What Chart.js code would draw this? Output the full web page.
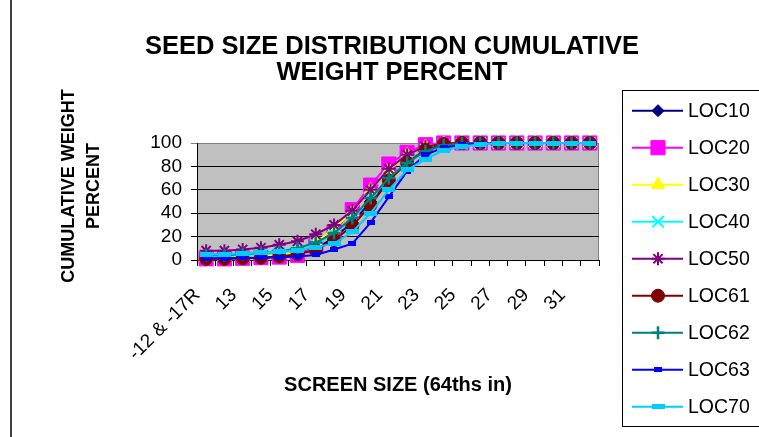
<!DOCTYPE html>
<html>
<head>
<meta charset="utf-8">
<script src="https://cdn.jsdelivr.net/npm/chart.js@4/dist/chart.umd.min.js"></script>
<style>
html,body{margin:0;padding:0;background:#fff;}
#wrap{width:759px;height:437px;position:relative;}
</style>
</head>
<body>
<div id="wrap"><canvas id="chartSeed" width="759" height="437"></canvas></div>
<script>
/* data */

const categories = ["-12 & -17R","12","13","14","15","16","17","18","19","20","21","22","23","24","25","26","27","28","29","30","31","32"];

const loc10 = [1,1.5,2,2.5,3.5,5.5,10,19,32,50,70,84,94,98.5,99.5,100,100,100,100,100,100,100];
const loc20 = [1,1,1.5,2,2.5,4,12,24,43,64,82,92,98.5,100,100,100,100,100,100,100,100,100];
const loc30 = [2,2.5,3,3.5,4.5,6,15,27,41,60,77,90,97,99.5,100,100,100,100,100,100,100,100];
const loc40 = [3,3.5,4,5,6,8,13,22,35,52,70,84,94,98.5,99.5,100,100,100,100,100,100,100];
const loc50 = [8,8,9,10.5,13,16,22,30,42,60,78,90,97,99.5,100,100,100,100,100,100,100,100];
const loc61 = [1,1,1.5,2,3,5,8.5,17,29,47,68,83,94,99,100,100,100,100,100,100,100,100];
const loc62 = [4,4,5,6,7,10,15,23,36,53,70,83,93,98,99.5,100,100,100,100,100,100,100];
const loc63 = [1.5,1.5,2,2,2.3,3,4.3,9,14,32,54,76,90,96,98.5,99.5,100,100,100,100,100,100];
const loc70 = [5,5,5.7,6.5,7,8.5,11,14,24,40,60,77,86,94,97,99,100,100,100,100,100,100];

const yTicks = [0,20,40,60,80,100];

const FONT = "Arial, 'Liberation Sans', sans-serif";

/* small dash markers (LOC63 / LOC70) */

function dash(w,h,color){
let c=document.createElement("canvas");
c.width=w;c.height=h;
let g=c.getContext("2d");
g.fillStyle=color;
g.fillRect(0,0,w,h);
return c;
}

let series=[
{label:"LOC10",data:loc10,color:"#000080",style:"rectRot",r:6,bw:1},
{label:"LOC20",data:loc20,color:"#FF00FF",style:"rect",r:10,bw:1},
{label:"LOC30",data:loc30,color:"#FFFF00",style:"triangle",r:7.5,bw:1},
{label:"LOC40",data:loc40,color:"#00FFFF",style:"crossRot",r:8,bw:2},
{label:"LOC50",data:loc50,color:"#800080",style:"star",r:6.5,bw:2},
{label:"LOC61",data:loc61,color:"#800000",style:"circle",r:6.5,bw:1},
{label:"LOC62",data:loc62,color:"#008080",style:"cross",r:6.5,bw:2.5},
{label:"LOC63",data:loc63,color:"#0000FF",style:dash(8,5,"#0000FF"),r:5,bw:1},
{label:"LOC70",data:loc70,color:"#00CCFF",style:dash(13,5,"#00CCFF"),r:6,bw:1}
];

let datasets=series.map((s,i)=>({
label:s.label,
data:s.data,
borderColor:s.color,
backgroundColor:s.color,
borderWidth:2,
pointStyle:s.style,
pointRadius:s.r,
pointHoverRadius:s.r,
pointBackgroundColor:s.color,
pointBorderColor:s.color,
pointBorderWidth:s.bw,
tension:0,
fill:false,
clip:false,
order:series.length-1-i
}));

/* decorations: background, titles, legend box */

const decor={
id:"decor",
beforeDraw(chart){
let ctx=chart.ctx, a=chart.chartArea;
ctx.save();
ctx.fillStyle="#fff";
ctx.fillRect(0,0,chart.width,chart.height);
ctx.fillStyle="#C0C0C0";
ctx.fillRect(a.left,a.top,a.right-a.left,a.bottom-a.top);
ctx.strokeStyle="#808080";
ctx.lineWidth=1;
ctx.beginPath();
ctx.moveTo(a.left,a.top+0.5);
ctx.lineTo(a.right-0.5,a.top+0.5);
ctx.lineTo(a.right-0.5,a.bottom);
ctx.stroke();
ctx.restore();
},
afterDraw(chart){
let ctx=chart.ctx;
ctx.save();

/* outer frame edge */
ctx.strokeStyle="#404040";
ctx.lineWidth=2;
ctx.beginPath();
ctx.moveTo(11,0);ctx.lineTo(11,437);
ctx.stroke();

/* main title */
ctx.fillStyle="#000";
ctx.textAlign="center";
ctx.textBaseline="middle";
ctx.font="bold 25.5px "+FONT;
ctx.fillText("SEED SIZE DISTRIBUTION CUMULATIVE",392,47);
ctx.fillText("WEIGHT PERCENT",392,73);

/* y title */
ctx.save();
ctx.translate(69,186);
ctx.rotate(-Math.PI/2);
ctx.font="bold 18px "+FONT;
ctx.fillText("CUMULATIVE WEIGHT",0,0);
ctx.fillText("PERCENT",0,25.5);
ctx.restore();

/* legend */
ctx.strokeStyle="#000";
ctx.lineWidth=1;
ctx.strokeRect(622.5,90.5,200,336);
ctx.font="19.5px "+FONT;
ctx.textAlign="left";
series.forEach((s,i)=>{
let y=110.7+i*37;
ctx.strokeStyle=s.color;
ctx.lineWidth=2;
ctx.beginPath();
ctx.moveTo(632,y);ctx.lineTo(683,y);
ctx.stroke();
ctx.fillStyle=s.color;
ctx.lineWidth=s.bw;
if(Chart.helpers && Chart.helpers.drawPoint){
Chart.helpers.drawPoint(ctx,{pointStyle:s.style,radius:s.r,rotation:0,borderWidth:s.bw},658,y);
}
ctx.fillStyle="#000";
ctx.fillText(s.label,688,y+1);
});

ctx.restore();
}
};

/* graph */

new Chart(document.getElementById("chartSeed"),{
type:"line",
data:{labels:categories,datasets},
plugins:[decor],
options:{
responsive:false,
animation:false,
devicePixelRatio:1,
layout:{padding:{left:0,top:143,right:160,bottom:0}},
plugins:{legend:{display:false},tooltip:{enabled:false},title:{display:false}},
scales:{
x:{
type:"category",
offset:true,
afterFit(scale){scale.height=177;},
grid:{offset:true,drawOnChartArea:false,drawTicks:true,tickLength:6,color:"#000"},
border:{color:"#000",width:1},
ticks:{
autoSkip:false,
maxRotation:45,
minRotation:45,
padding:18,
labelOffset:-9,
color:"#000",
font:{family:FONT,size:19},
callback:function(v,i){return i%2===0?this.getLabelForValue(v):"";}
},
title:{display:true,text:"SCREEN SIZE (64ths in)",color:"#000",font:{family:FONT,size:20,weight:"bold"},padding:{top:0,bottom:40}}
},
y:{
min:0,
max:100,
afterFit(scale){scale.width=197;},
afterBuildTicks(scale){scale.ticks=yTicks.map(v=>({value:v}));},
grid:{color:(c)=>c.tick && c.tick.value===100?"#808080":"#000",tickLength:6,drawTicks:true},
border:{color:"#000",width:1},
ticks:{autoSkip:false,padding:9,color:"#000",font:{family:FONT,size:19}}
}
}
}
});
</script>
</body>
</html>
